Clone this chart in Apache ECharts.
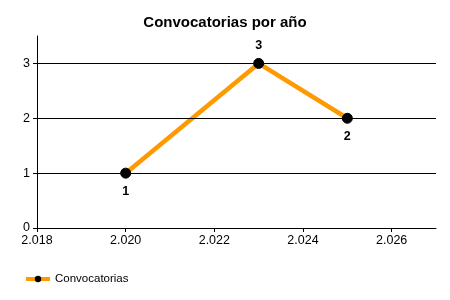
<!DOCTYPE html>
<html>
<head>
<meta charset="utf-8">
<script src="https://cdn.jsdelivr.net/npm/echarts@6/dist/echarts.min.js"></script>
<style>html,body{margin:0;padding:0;background:#fff}#c{width:450px;height:300px}</style>
</head>
<body>
<div id="c"></div>
<script>
var years = [2020, 2023, 2025];
var counts = [1, 3, 2];
var xTickValues = [2018, 2020, 2022, 2024, 2026];
var yTickValues = [0, 1, 2, 3];
var seriesName = 'Convocatorias';
var titleText = 'Convocatorias por año';

var labelPlacement = ['bottom', 'top', 'bottom'];
var FONT = 'Liberation Sans, Arial, sans-serif';

var chart = echarts.init(document.getElementById('c'), null, {renderer: 'canvas'});
chart.setOption({
  animation: false,
  backgroundColor: '#ffffff',
  title: {
    text: titleText, left: 'center', top: 10,
    textStyle: {fontFamily: FONT, fontSize: 15, fontWeight: 'bold', color: '#000'}
  },
  legend: {
    left: 19, top: 268, itemWidth: 24, itemHeight: 8, itemGap: 4,
    data: [seriesName],
    lineStyle: {width: 4},
    textStyle: {fontFamily: FONT, fontSize: 11.5, color: '#000', padding: [0,0,0,0]}
  },
  grid: {left: 37, right: 14, top: 36, bottom: 72, containLabel: false},
  xAxis: {
    type: 'value', min: 2018, max: 2027, interval: 1,
    axisLine: {show: true, onZero: false, lineStyle: {color: '#000', width: 1}},
    axisTick: {show: true, length: 4, lineStyle: {color: '#000'}, customValues: xTickValues},
    axisLabel: {
      color: '#000', fontFamily: FONT, fontSize: 12.5, margin: 6,
      customValues: xTickValues,
      formatter: function (v) { var s = String(v); return s.slice(0, 1) + '.' + s.slice(1); }
    },
    splitLine: {show: false}
  },
  yAxis: {
    type: 'value', min: 0, max: 3.5, interval: 0.5,
    axisLine: {show: true, lineStyle: {color: '#000', width: 1}},
    axisTick: {show: true, length: 4, lineStyle: {color: '#000'}, customValues: yTickValues},
    axisLabel: {color: '#000', fontFamily: FONT, fontSize: 12.5, margin: 7, customValues: yTickValues},
    splitLine: {show: false}
  },
  series: [
    {
      type: 'line', name: 'grid', silent: true, legendHoverLink: false,
      data: [],
      markLine: {
        silent: true, symbol: 'none', label: {show: false},
        lineStyle: {color: '#000', width: 1, type: 'solid'},
        data: yTickValues.filter(function (v) { return v > 0; }).map(function (v) { return {yAxis: v}; })
      }
    },
    {
      type: 'line', name: seriesName,
      data: years.map(function (y, i) {
        return {value: [y, counts[i]], label: {position: labelPlacement[i]}};
      }),
      lineStyle: {color: '#FF9900', width: 4.5},
      itemStyle: {color: '#000', borderColor: '#000'},
      color: '#FF9900',
      symbol: 'circle', symbolSize: 10,
      label: {show: true, distance: 6, fontFamily: FONT, fontSize: 12.5, fontWeight: 'bold', color: '#000'}
    }
  ]
});
</script>
</body>
</html>
